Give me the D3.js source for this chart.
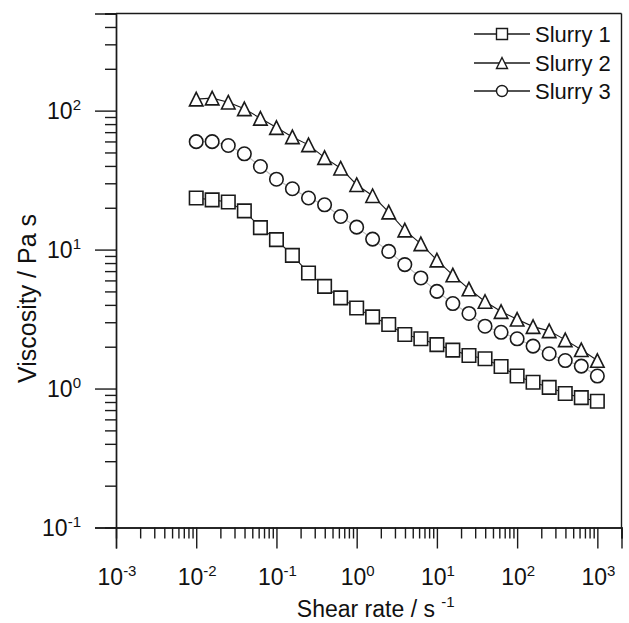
<!DOCTYPE html>
<html><head><meta charset="utf-8">
<script src="https://cdn.jsdelivr.net/npm/d3@7"></script>
<style>
html,body{margin:0;padding:0;background:#fff;}
svg{display:block;font-family:"Liberation Sans",Arial,sans-serif;}
</style></head>
<body>
<svg id="chart" width="629" height="623"></svg>
<script>
const shearRate = [0.01, 0.0158, 0.0251, 0.0398, 0.0631, 0.1, 0.158, 0.251, 0.398, 0.631, 1, 1.58, 2.51, 3.98, 6.31, 10, 15.8, 25.1, 39.8, 63.1, 100, 158, 251, 398, 631, 1000];
const slurry1 = [23.5, 22.8, 22.0, 19.0, 14.4, 11.8, 9.08, 6.79, 5.44, 4.49, 3.80, 3.28, 2.89, 2.45, 2.28, 2.07, 1.89, 1.73, 1.64, 1.44, 1.23, 1.11, 1.02, 0.92, 0.86, 0.81];
const slurry2 = [121, 123, 115, 103, 88, 75.5, 64.7, 56.7, 45.9, 38.5, 29.3, 24.4, 18.6, 13.8, 11.0, 8.4, 6.56, 5.2, 4.23, 3.58, 3.15, 2.79, 2.60, 2.24, 1.90, 1.59];
const slurry3 = [59.8, 59.8, 56.1, 48.9, 39.6, 32.1, 27.4, 23.5, 21.0, 17.3, 14.5, 11.9, 9.7, 7.8, 6.25, 5.0, 4.09, 3.47, 2.81, 2.54, 2.28, 2.02, 1.78, 1.59, 1.45, 1.23];
const seriesNames = ["Slurry 1", "Slurry 2", "Slurry 3"];
const seriesSymbols = ["square", "triangle", "circle"];
const xMajorTicks = [0.001, 0.01, 0.1, 1, 10, 100, 1000];
const xMajorExps = ["-3", "-2", "-1", "0", "1", "2", "3"];
const yMajorTicks = [0.1, 1, 10, 100];
const yMajorExps = ["-1", "0", "1", "2"];
const xDomain = [0.001, 2000];
const yDomain = [0.1, 500];
const xTitle = "Shear rate / s";
const xTitleSup = "-1";
const yTitle = "Viscosity / Pa s";

const svg = d3.select("#chart");
const L = 116, R = 621.5, T = 13.5, B = 527.5;
const x = d3.scaleLog().domain(xDomain).range([L, R]);
const y = d3.scaleLog().domain(yDomain).range([B, T]);
const ink = "#1a1a1a";

function minors(lo, hi) {
  const out = [];
  for (let e = Math.floor(Math.log10(lo)); e <= Math.ceil(Math.log10(hi)); e++) {
    for (let k = 2; k <= 9; k++) {
      const v = k * Math.pow(10, e);
      if (v >= lo * 0.999 && v <= hi * 1.001) out.push(+v.toPrecision(3));
    }
  }
  return out;
}

// frame top/right
svg.append("line").attr("x1", L).attr("x2", R).attr("y1", T).attr("y2", T).attr("stroke", ink).attr("stroke-width", 1.4);
svg.append("line").attr("x1", R).attr("x2", R).attr("y1", T).attr("y2", B).attr("stroke", ink).attr("stroke-width", 1.4);

// minor axes
const gxm = svg.append("g").attr("transform", `translate(0,${B})`)
  .call(d3.axisBottom(x).tickValues(minors(xDomain[0], xDomain[1])).tickSize(11).tickFormat(""));
const gym = svg.append("g").attr("transform", `translate(${L},0)`)
  .call(d3.axisLeft(y).tickValues(minors(yDomain[0], yDomain[1])).tickSize(11).tickFormat(""));
// major axes
const gx = svg.append("g").attr("transform", `translate(0,${B})`)
  .call(d3.axisBottom(x).tickValues(xMajorTicks).tickSize(21).tickFormat(""));
const gy = svg.append("g").attr("transform", `translate(${L},0)`)
  .call(d3.axisLeft(y).tickValues(yMajorTicks).tickSize(21).tickFormat(""));
[gxm, gym, gx, gy].forEach(g => {
  g.selectAll("path.domain").attr("stroke", ink).attr("stroke-width", 1.4);
  g.selectAll(".tick line").attr("stroke", ink).attr("stroke-width", 1.4);
});

// x tick labels
xMajorTicks.forEach((v, i) => {
  const t = svg.append("text").attr("x", x(v) + 1).attr("y", 585)
    .attr("text-anchor", "middle").attr("font-size", 23).attr("fill", "#111");
  t.append("tspan").text("10");
  t.append("tspan").attr("font-size", 15).attr("dy", -9).text(xMajorExps[i]);
});
// y tick labels
yMajorTicks.forEach((v, i) => {
  const t = svg.append("text").attr("x", 81).attr("y", y(v) + 8)
    .attr("text-anchor", "end").attr("font-size", 23).attr("fill", "#111");
  t.append("tspan").text("10");
  t.append("tspan").attr("font-size", 15).attr("dy", -9).text(yMajorExps[i]);
});

// titles
const xt = svg.append("text").attr("x", (L + R) / 2 + 7).attr("y", 617)
  .attr("text-anchor", "middle").attr("font-size", 23).attr("fill", "#111");
xt.append("tspan").text(xTitle + " ");
xt.append("tspan").attr("font-size", 15).attr("dy", -10).text(xTitleSup);
svg.append("text").attr("transform", `translate(36,${(T + B) / 2 + 28}) rotate(-90)`)
  .attr("text-anchor", "middle").attr("font-size", 25).attr("fill", "#111").text(yTitle);

// symbols
function symbolPath(type, s) {
  const h = s / 2;
  if (type === "square") return `M${-h},${-h}H${h}V${h}H${-h}Z`;
  if (type === "triangle") return `M0,${-h}L${h},${h}L${-h},${h}Z`;
  return `M${h},0A${h},${h} 0 1,1 ${-h},0A${h},${h} 0 1,1 ${h},0Z`;
}

const allSeries = [slurry1, slurry2, slurry3];
const line = d3.line().x((d, i) => x(shearRate[i])).y(d => y(d));
allSeries.forEach((vals, si) => {
  svg.append("path").datum(vals).attr("d", line).attr("fill", "none")
    .attr("stroke", ink).attr("stroke-width", 1.1)
    .attr("stroke-opacity", si === 2 ? 0.3 : 1);
});
allSeries.forEach((vals, si) => {
  svg.append("g").selectAll("path").data(vals).join("path")
    .attr("transform", (d, i) => `translate(${x(shearRate[i])},${y(d)})`)
    .attr("d", symbolPath(seriesSymbols[si], 13.5))
    .attr("fill", "#fff").attr("stroke", ink).attr("stroke-width", 1.6);
});

// legend
const legY = [34, 63, 91];
seriesNames.forEach((name, i) => {
  const g = svg.append("g").attr("transform", `translate(0,${legY[i]})`);
  g.append("line").attr("x1", 474).attr("x2", 530).attr("y1", 0).attr("y2", 0)
    .attr("stroke", ink).attr("stroke-width", 1.3);
  g.append("path").attr("transform", "translate(502,0)")
    .attr("d", symbolPath(seriesSymbols[i], 11))
    .attr("fill", "#fff").attr("stroke", ink).attr("stroke-width", 1.4);
  g.append("text").attr("x", 535).attr("y", 8).attr("font-size", 22).attr("fill", "#111").text(name);
});
</script>
</body></html>
